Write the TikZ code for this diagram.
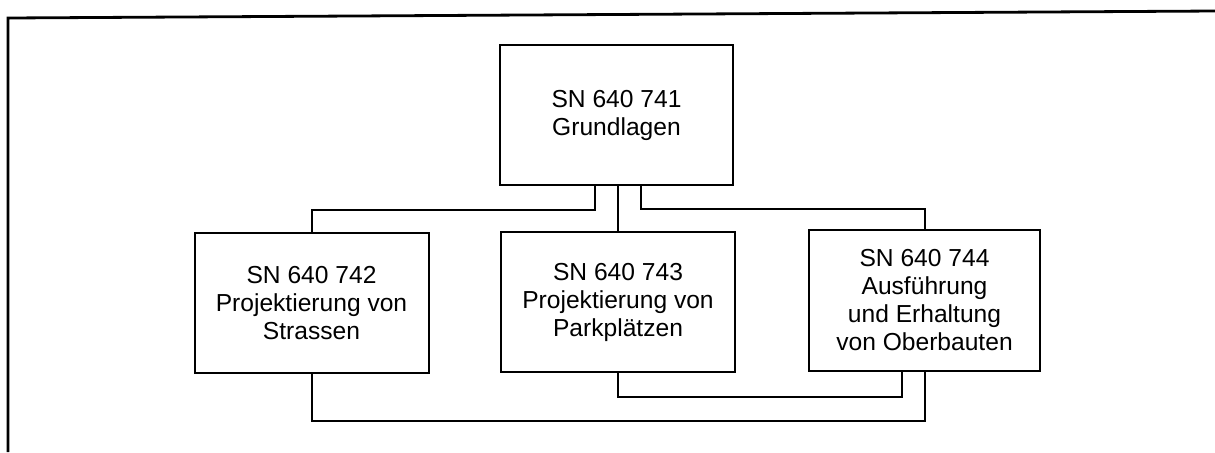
\documentclass[tikz,border=0pt]{standalone}
\usepackage{fontspec}
\setmainfont{Liberation Sans}
\usepackage{tikz}
\usetikzlibrary{positioning,calc}

\begin{document}
\begin{tikzpicture}[
  x=0.5pt, y=-0.5pt,
  every node/.style={font=\fontsize{12.3}{14}\selectfont},
  normbox/.style={draw, line width=1pt, minimum width=117pt, minimum height=70pt, align=center, inner sep=2pt},
  link/.style={line width=1pt}
]
\useasboundingbox (0,0) rectangle (1215,452);
% frame
\draw[line width=1.4pt] (8,452) -- (8,18) -- (1215,11);

\node[normbox, minimum width=116.5pt] (g741) at (616.5,115) {SN 640 741\\Grundlagen};
\node[normbox] (g742) at (311.5,303) {SN 640 742\\Projektierung von\\Strassen};
\node[normbox] (g743) at (618,302) {SN 640 743\\Projektierung von\\Parkpl\"atzen};
\node[normbox, minimum width=115.5pt, minimum height=70.5pt] (g744) at (924.5,300.5) {SN 640 744\\Ausf\"uhrung\\und Erhaltung\\von Oberbauten};

% from the base standard
\draw[link] ([xshift=-10.75pt]g741.south) -- ++(0,24) -| (g742.north);
\draw[link] (g743.north |- g741.south) -- (g743.north);
\draw[link] ([xshift=12.25pt]g741.south) -- ++(0,23) -| (g744.north);

% to the pavement standard
\draw[link] (g743.south) -- ++(0,24) -| ([xshift=-11.25pt]g744.south);
\draw[link] (g742.south) -- ++(0,47) -| (g744.south);
\end{tikzpicture}
\end{document}
